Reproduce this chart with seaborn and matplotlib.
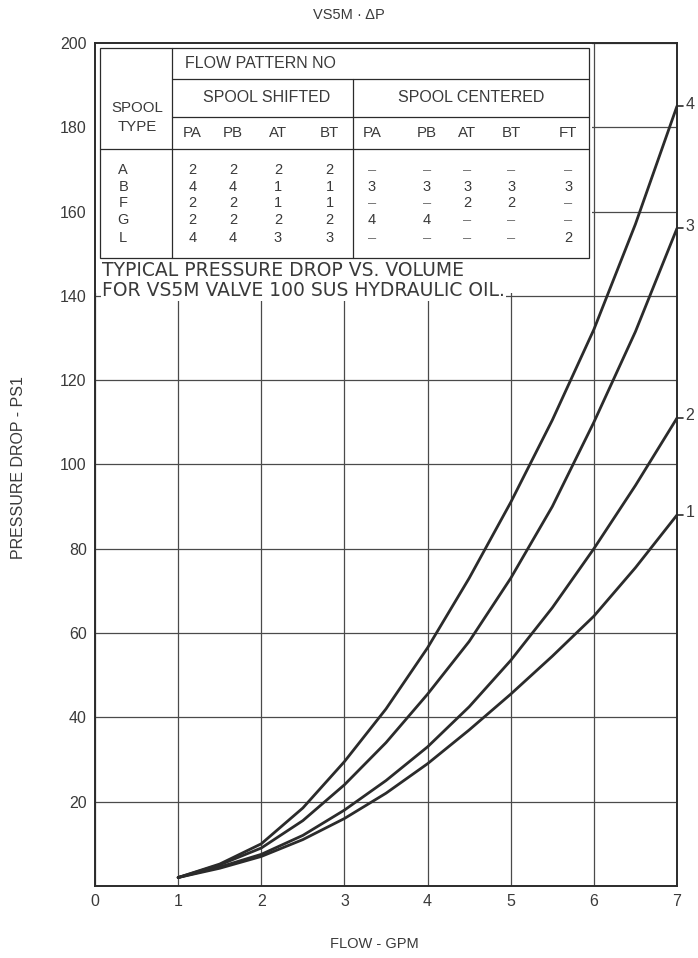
import matplotlib
matplotlib.use("Agg")
import matplotlib.pyplot as plt
from matplotlib.patches import Rectangle
import numpy as np
import pandas as pd
import seaborn as sns

# Flow (GPM) and pressure drop (PSI) for the four flow-pattern curves
flow = [1.0, 1.5, 2.0, 2.5, 3.0, 3.5, 4.0, 4.5, 5.0, 5.5, 6.0, 6.5, 7.0]
curve_1 = [2.0, 4.2, 7.0, 11.0, 16.0, 22.0, 29.0, 37.0, 45.5, 54.5, 64.0, 75.5, 88.0]
curve_2 = [2.0, 4.5, 7.5, 12.0, 18.0, 25.0, 33.0, 42.5, 53.5, 66.0, 80.0, 95.0, 111.0]
curve_3 = [2.0, 5.0, 9.0, 15.5, 24.0, 34.0, 45.5, 58.0, 73.0, 90.0, 110.0, 131.5, 156.0]
curve_4 = [2.0, 5.2, 10.0, 18.5, 29.5, 42.0, 56.5, 73.0, 91.0, 110.5, 132.0, 157.0, 185.0]
curve_names = ["1", "2", "3", "4"]

x_ticks = [0, 1, 2, 3, 4, 5, 6, 7]
y_ticks = [20, 40, 60, 80, 100, 120, 140, 160, 180, 200]

# Flow pattern table
spool_types = ["A", "B", "F", "G", "L"]
shifted_cols = ["PA", "PB", "AT", "BT"]
centered_cols = ["PA", "PB", "AT", "BT", "FT"]
shifted_vals = [
    ["2", "2", "2", "2"],
    ["4", "4", "1", "1"],
    ["2", "2", "1", "1"],
    ["2", "2", "2", "2"],
    ["4", "4", "3", "3"],
]
centered_vals = [
    ["–", "–", "–", "–", "–"],
    ["3", "3", "3", "3", "3"],
    ["–", "–", "2", "2", "–"],
    ["4", "4", "–", "–", "–"],
    ["–", "–", "–", "–", "2"],
]

sns.set_theme(style="white")
plt.rcParams["font.family"] = ["Liberation Sans", "DejaVu Sans"]

INK = "#2b2b2b"
TXT = "#3a3a3a"

df = pd.concat(
    [pd.DataFrame({"flow": flow, "psi": vals, "curve": name})
     for name, vals in zip(curve_names, [curve_1, curve_2, curve_3, curve_4])],
    ignore_index=True,
)

fig = plt.figure(figsize=(6.98, 9.58), dpi=100)
ax = fig.add_axes([0.1361, 0.0752, 0.8338, 0.8800])

sns.lineplot(data=df, x="flow", y="psi", hue="curve",
             palette=[INK] * 4, linewidth=2.0, legend=False, ax=ax, zorder=5)

ax.set_xlim(0, 7)
ax.set_ylim(0, 200)
ax.set_xticks(x_ticks)
ax.set_yticks(y_ticks)
ax.set_xticklabels([str(v) for v in x_ticks], fontsize=11.5, color=TXT)
ax.set_yticklabels([str(v) for v in y_ticks], fontsize=11.5, color=TXT)
ax.tick_params(length=0, pad=6)
ax.set_xlabel("")
ax.set_ylabel("")
ax.grid(True, color="#4a4a4a", linewidth=0.9)
ax.set_axisbelow(True)
for sp in ax.spines.values():
    sp.set_color(INK)
    sp.set_linewidth(1.4)
    sp.set_visible(True)

# Blank area behind the table and its caption
ax.add_patch(Rectangle((0, 140.6), 5.975, 59.4, facecolor="white",
                       edgecolor="none", zorder=2))

# Table frame and rule lines
lw_t = 0.9
t_left, t_right, t_top, t_bot = 0.06, 5.94, 198.8, 149.0
ax.add_patch(Rectangle((t_left, t_bot), t_right - t_left, t_top - t_bot,
                       facecolor="none", edgecolor=INK, linewidth=lw_t, zorder=3))
col_split, mid_split = 0.925, 3.10
ax.plot([col_split, col_split], [t_bot, t_top], color=INK, lw=lw_t, zorder=3)
ax.plot([col_split, t_right], [191.5, 191.5], color=INK, lw=lw_t, zorder=3)
ax.plot([col_split, t_right], [182.4, 182.4], color=INK, lw=lw_t, zorder=3)
ax.plot([t_left, t_right], [174.8, 174.8], color=INK, lw=lw_t, zorder=3)
ax.plot([mid_split, mid_split], [t_bot, 191.5], color=INK, lw=lw_t, zorder=3)

fs_h = 11.5
fs_d = 10.5
ax.text(0.505, 184.5, "SPOOL", ha="center", va="center", fontsize=10.8, color=TXT, zorder=4)
ax.text(0.505, 180.1, "TYPE", ha="center", va="center", fontsize=10.8, color=TXT, zorder=4)
ax.text(1.08, 195.2, "FLOW PATTERN NO", ha="left", va="center", fontsize=fs_h, color=TXT, zorder=4)
ax.text(2.07, 187.0, "SPOOL SHIFTED", ha="center", va="center", fontsize=fs_h, color=TXT, zorder=4)
ax.text(4.52, 187.0, "SPOOL CENTERED", ha="center", va="center", fontsize=fs_h, color=TXT, zorder=4)

shift_x = [1.17, 1.66, 2.20, 2.82]
cent_x = [3.33, 3.99, 4.48, 5.01, 5.69]
for lab, xc in zip(shifted_cols + centered_cols, shift_x + cent_x):
    ax.text(xc, 178.6, lab, ha="center", va="center", fontsize=10.8, color=TXT, zorder=4)

row_y = [169.9, 165.8, 162.0, 158.0, 153.7]
for i, st in enumerate(spool_types):
    ax.text(0.34, row_y[i], st, ha="center", va="center", fontsize=fs_d, color=TXT, zorder=4)
    for val, xc in zip(shifted_vals[i], shift_x):
        ax.text(xc, row_y[i], val, ha="center", va="center", fontsize=fs_d, color=TXT, zorder=4)
    for val, xc in zip(centered_vals[i], cent_x):
        ax.text(xc, row_y[i], val, ha="center", va="center", fontsize=fs_d,
                color=TXT if val != "–" else "#777777", zorder=4)

# Caption under the table, set in a wider face
cap_font = ["DejaVu Sans"]
ax.text(0.085, 145.9, "TYPICAL PRESSURE DROP VS. VOLUME", ha="left", va="center",
        fontsize=13.5, family=cap_font, color=TXT, zorder=4)
ax.text(0.085, 141.2, "FOR VS5M VALVE 100 SUS HYDRAULIC OIL.", ha="left", va="center",
        fontsize=13.5, family=cap_font, color=TXT, zorder=4,
        bbox=dict(boxstyle="square,pad=0.05", facecolor="white", edgecolor="none"))

# Curve numbers at the right end of each line
for name, vals in zip(curve_names, [curve_1, curve_2, curve_3, curve_4]):
    end = vals[-1]
    ax.plot([7.0, 7.07], [end, end], color=INK, lw=1.2, clip_on=False, zorder=6)
    ax.text(7.1, end + 0.5, name, ha="left", va="center", fontsize=11.5, color=TXT)

fig.text(0.5, 0.984, "VS5M · ΔP", ha="center", va="center", fontsize=10.5, color=TXT)
fig.text(0.026, 0.5115, "PRESSURE DROP - PS1", rotation=90, ha="center", va="center",
         fontsize=11.5, color=TXT)
fig.text(0.537, 0.0146, "FLOW - GPM", ha="center", va="center", fontsize=10.5, color=TXT)

fig.savefig("out.png", dpi=100, facecolor="white")
